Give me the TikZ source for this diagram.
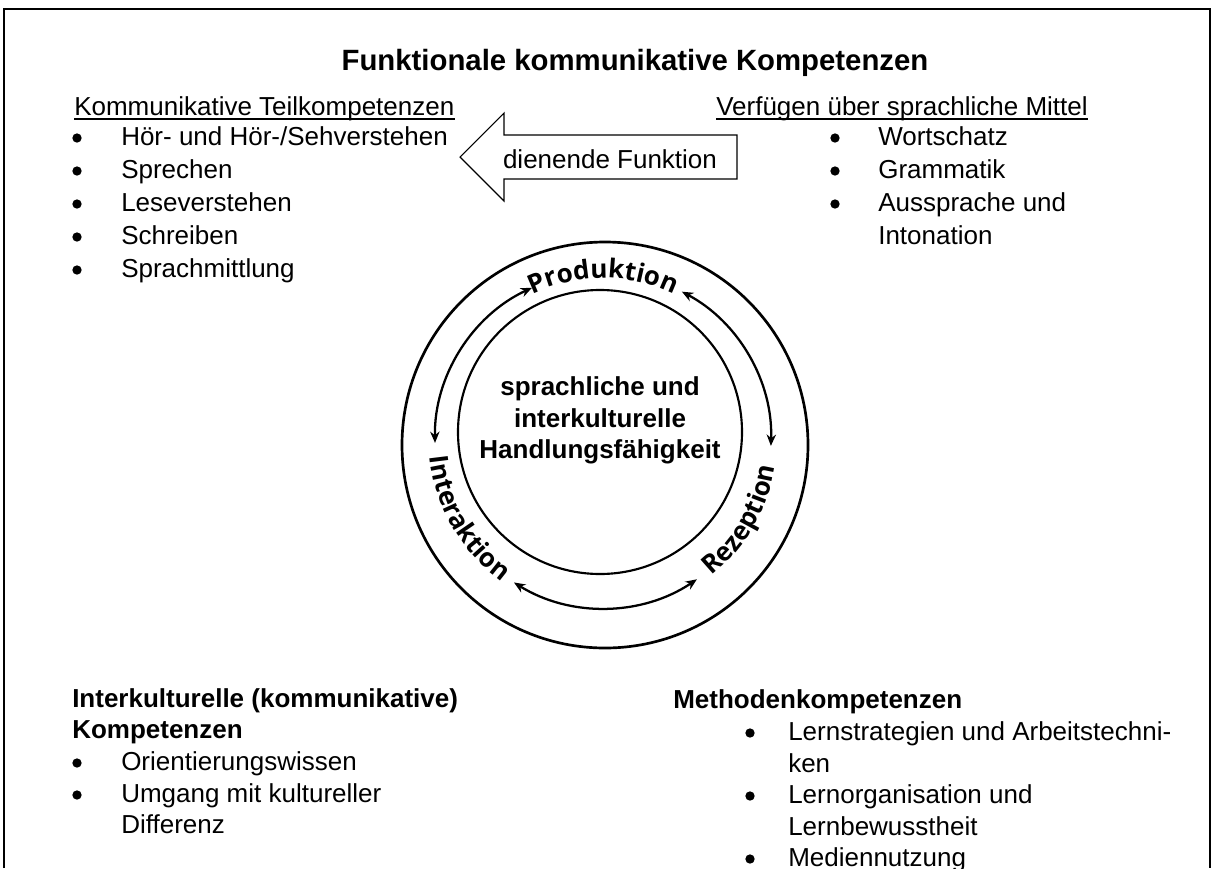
\documentclass[tikz,border=0pt]{standalone}
\usepackage{fontspec}
\setmainfont{Liberation Sans}
\newfontfamily\ringfont{Open Sans}
\usetikzlibrary{arrows.meta,decorations.text,calc}

\newcommand\ringlabel{\ringfont\bfseries\fontsize{19.5}{22}\selectfont}

\tikzset{
  txt/.style={inner sep=0pt},
  bul/.style={circle,fill=black,inner sep=0pt,minimum size=7pt},
  item/.style={anchor=base west,inner sep=0pt},
  ringarrow/.style={line width=1.7,{Stealth[length=8.5pt,width=7pt]}-{Stealth[length=8.5pt,width=7pt]}},
  ringtext/.style={decorate,decoration={text along path,text align=center,text={|\ringlabel|#1}}}
}

\begin{document}
\begin{tikzpicture}[x=0.75pt,y=0.75pt,yscale=-1,xscale=1,font=\fontsize{19.5}{24}\selectfont]
\useasboundingbox (0,0) rectangle (1213,868);

%Straight Lines (frame)
\draw [line width=1.5]  (4,868) -- (4,9) -- (1210,9) -- (1210,868) ;

% Text Node
\draw (635,70) node [anchor=base][txt] [font=\fontsize{22}{26}\selectfont\bfseries] (title) {Funktionale kommunikative Kompetenzen};

% Text Node
\draw (74,115) node [item] (kteil) {Kommunikative Teilkompetenzen};
\draw [line width=1.1]  ($(kteil.base west)+(0,4)$) -- ($(kteil.base east)+(0,4)$) ;
\draw (77,138) node [bul] (kb1) {};
\draw (121,145) node [item] (kt1) {Hör- und Hör-/Sehverstehen};
\draw (77,171) node [bul] (kb2) {};
\draw (121,178) node [item] (kt2) {Sprechen};
\draw (77,204) node [bul] (kb3) {};
\draw (121,211) node [item] (kt3) {Leseverstehen};
\draw (77,237) node [bul] (kb4) {};
\draw (121,244) node [item] (kt4) {Schreiben};
\draw (77,270) node [bul] (kb5) {};
\draw (121,277) node [item] (kt5) {Sprachmittlung};

% Text Node
\draw (716,115) node [item] (mittel) {Verfügen über sprachliche Mittel};
\draw [line width=1.1]  ($(mittel.base west)+(0,4)$) -- ($(mittel.base east)+(0,4)$) ;
\draw (835,138) node [bul] (mb1) {};
\draw (878,145) node [item] (mt1) {Wortschatz};
\draw (835,171) node [bul] (mb2) {};
\draw (878,178) node [item] (mt2) {Grammatik};
\draw (835,204) node [bul] (mb3) {};
\draw (878,211) node [item] (mt3) {Aussprache und};
\draw (878,244) node [item] (mt4) {Intonation};

%Shape: Left Arrow
\draw [line width=0.8]  (460,157) -- (504,113) -- (504,135) -- (737,135) -- (737,179) -- (504,179) -- (504,201) -- cycle ;
% Text Node
\draw (610,168) node [anchor=base][txt] (dienend) {dienende Funktion};

%Shape: Circle
\draw [line width=2]  (605,445) circle [radius=203] ;
%Shape: Circle
\draw [line width=1.6]  (600,432) circle [radius=142] ;

% Text Node
\draw (600,395) node [anchor=base][txt] [font=\fontsize{19.5}{24}\selectfont\bfseries] (kern1) {sprachliche und};
\draw (600,427) node [anchor=base][txt] [font=\fontsize{19.5}{24}\selectfont\bfseries] (kern2) {interkulturelle};
\draw (600,458) node [anchor=base][txt] [font=\fontsize{19.5}{24}\selectfont\bfseries] (kern3) {Handlungsfähigkeit};

% ring: arrows and labels
\begin{scope}[shift={(603,440)},yscale=-1]
\draw [ringarrow]  (115:168) arc [start angle=115,end angle=181,radius=168] ;
\draw [ringarrow]  (62:168) arc [start angle=62,end angle=-2,radius=168] ;
\draw [ringarrow]  (238:168) arc [start angle=238,end angle=304,radius=168] ;
\path [ringtext=Produktion]  (140:162) arc [start angle=140,end angle=40,radius=162] ;
\path [ringtext=Rezeption]  (-80:174) arc [start angle=-80,end angle=20,radius=174] ;
\path [ringtext=Interaktion]  (160:174) arc [start angle=160,end angle=260,radius=174] ;
\end{scope}

% Text Node
\draw (72,707) node [item] [font=\fontsize{19.5}{24}\selectfont\bfseries] (ikk1) {Interkulturelle (kommunikative)};
\draw (72,738) node [item] [font=\fontsize{19.5}{24}\selectfont\bfseries] (ikk2) {Kompetenzen};
\draw (77,763) node [bul] (ib1) {};
\draw (121,770) node [item] (it1) {Orientierungswissen};
\draw (77,795) node [bul] (ib2) {};
\draw (121,802) node [item] (it2) {Umgang mit kultureller};
\draw (121,833) node [item] (it3) {Differenz};

% Text Node
\draw (673,708) node [item] [font=\fontsize{19.5}{24}\selectfont\bfseries] (meth) {Methodenkompetenzen};
\draw (750,733) node [bul] (eb1) {};
\draw (788,740) node [item] (et1) {Lernstrategien und Arbeitstechni-};
\draw (788,772) node [item] (et2) {ken};
\draw (750,796) node [bul] (eb2) {};
\draw (788,803) node [item] (et3) {Lernorganisation und};
\draw (788,835) node [item] (et4) {Lernbewusstheit};
\draw (750,859) node [bul] (eb3) {};
\draw (788,866) node [item] (et5) {Mediennutzung};

\end{tikzpicture}
\end{document}
